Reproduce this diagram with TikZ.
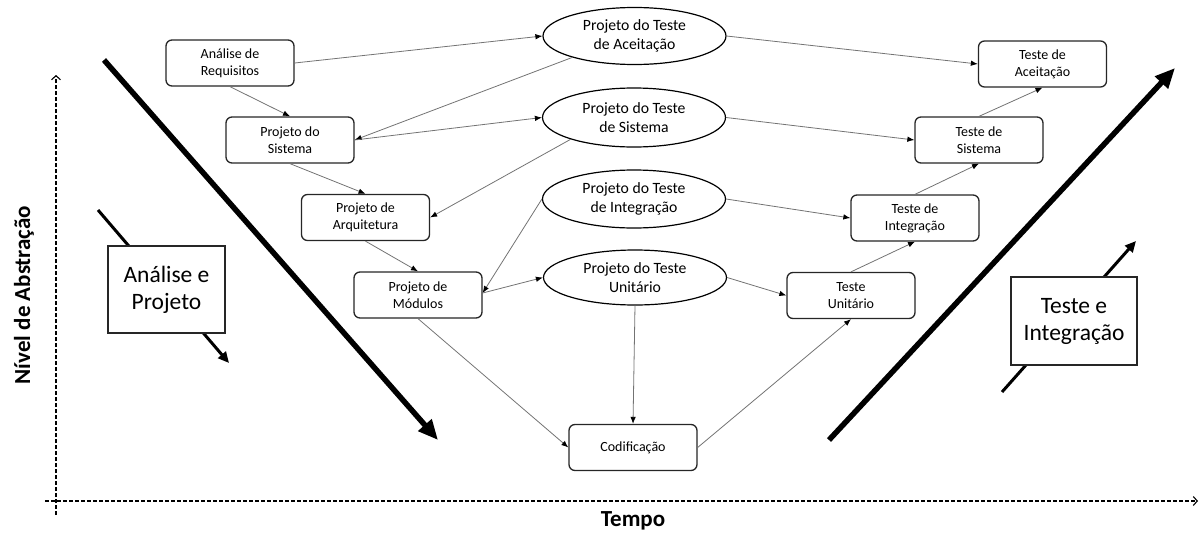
\documentclass[tikz,border=0pt]{standalone}
\usepackage{fontspec}
\setmainfont{Carlito}
\usetikzlibrary{arrows.meta,shapes.geometric}

\begin{document}
\begin{tikzpicture}[x=1pt,y=-1pt,
  stagebox/.style={draw=black!85, line width=1.3pt, rounded corners=6pt, fill=white,
    minimum width=128pt, minimum height=46pt, inner sep=0pt, align=center,
    font=\fontsize{14}{17}\selectfont},
  testoval/.style={ellipse, draw=black, line width=1.2pt, fill=white,
    minimum width=183pt, minimum height=57pt, inner sep=0pt, align=center,
    font=\fontsize{15.7}{18.5}\selectfont},
  phasebox/.style={draw=black!85, line width=1.2pt, fill=white, inner sep=0pt,
    align=center, font=\fontsize{23.5}{27}\selectfont},
  flow/.style={draw=black!55, line width=0.8pt, -{Latex[length=7pt,width=5.5pt,black]}},
  axis/.style={dash pattern=on 4pt off 2pt, line width=1.1pt,
    -{Straight Barb[length=4pt,width=9pt]}},
  bigarrow/.style={line width=5.5pt, -{Triangle[length=20pt,width=17pt]}},
  smallarrow/.style={line width=3pt, -{Triangle[length=11pt,width=10pt]}},
  axislabel/.style={font=\fontsize{23}{26}\selectfont\bfseries}]

\useasboundingbox (0,0) rectangle (1202,533);

% axes
\coordinate (yfoot) at (56,515);
\coordinate (ytop) at (56,75);
\coordinate (xfoot) at (45,501);
\coordinate (xend) at (1198,501);
\draw[axis] (yfoot) -- (ytop);
\draw[axis] (xfoot) -- (xend);
\node[axislabel, rotate=90] (ylab) at (24,295) {Nível de Abstração};
\node[axislabel] (xlab) at (633,521) {Tempo};

% phase arrows
\coordinate (downA) at (104,60);
\coordinate (downB) at (438,440);
\coordinate (upA) at (829,440);
\coordinate (upB) at (1175,68);
\draw[bigarrow] (downA) -- (downB);
\draw[bigarrow] (upA) -- (upB);

\coordinate (sdA) at (98,210);
\coordinate (sdB) at (229,363);
\coordinate (suA) at (1002,392);
\coordinate (suB) at (1136,241);
\draw[smallarrow] (sdA) -- (sdB);
\draw[smallarrow] (suA) -- (suB);

\node[phasebox, minimum width=117pt, minimum height=87pt] (ap) at (166.5,289.5) {Análise e\\Projeto};
\node[phasebox, minimum width=126pt, minimum height=88pt] (ti) at (1074,321) {Teste e\\Integração};

% development stages
\node[stagebox] (ar) at (230,63) {Análise de\\Requisitos};
\node[stagebox] (ps) at (290,140) {Projeto do\\Sistema};
\node[stagebox] (pa) at (365.5,217.5) {Projeto de\\Arquitetura};
\node[stagebox] (pm) at (418,295) {Projeto de\\Módulos};
\node[stagebox] (cod) at (633,447.5) {Codificação};
\node[stagebox] (tu) at (851,295.5) {Teste\\Unitário};
\node[stagebox] (tin) at (915,218) {Teste de\\Integração};
\node[stagebox] (ts) at (979,140) {Teste de\\Sistema};
\node[stagebox] (ta) at (1042.5,64) {Teste de\\Aceitação};

% test design
\node[testoval] (pta) at (634.5,36) {Projeto do Teste\\de Aceitação};
\node[testoval, minimum height=59pt] (pts) at (634,117.5) {Projeto do Teste\\de Sistema};
\node[testoval, minimum height=58pt] (pti) at (634,199) {Projeto do Teste\\de Integração};
\node[testoval, minimum height=55pt] (ptu) at (635,277.5) {Projeto do Teste\\Unitário};

% flows
\draw[flow] (ar.east) -- (pta.west);
\draw[flow] (ar.south) -- (ps.north);
\draw[flow] (pta.199) -- (ps.east);
\draw[flow] (ps.east) -- (pts.west);
\draw[flow] (ps.south) -- (pa.north);
\draw[flow] (pts.199) -- (pa.east);
\draw[flow] (pa.south) -- (pm.north);
\draw[flow] (pti.west) -- ([yshift=2pt]pm.east);
\draw[flow] ([yshift=2pt]pm.east) -- (ptu.west);
\draw[flow] (pm.south) -- (cod.west);
\draw[flow] (ptu.south) -- (cod.north);
\draw[flow] (cod.east) -- (tu.south);
\draw[flow] (ptu.east) -- (tu.west);
\draw[flow] (tu.north) -- (tin.south);
\draw[flow] (pti.east) -- (tin.west);
\draw[flow] (tin.north) -- (ts.south);
\draw[flow] (pts.east) -- (ts.west);
\draw[flow] (ts.north) -- (ta.south);
\draw[flow] (pta.east) -- (ta.west);

\end{tikzpicture}
\end{document}
